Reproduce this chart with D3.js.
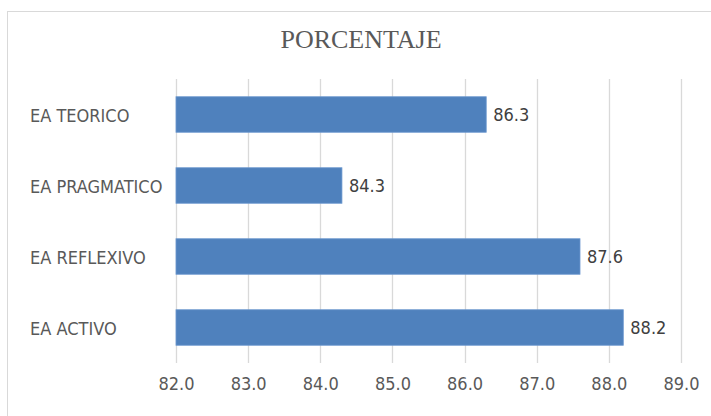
<!DOCTYPE html>
<html><head><meta charset="utf-8">
<script src="https://cdn.jsdelivr.net/npm/d3@7"></script>
<style>body{margin:0;background:#fff}svg{display:block}</style>
</head><body>
<script>
const categories = ["EA TEORICO", "EA PRAGMATICO", "EA REFLEXIVO", "EA ACTIVO"];
const values = [86.3, 84.3, 87.6, 88.2];
const tickValues = [82, 83, 84, 85, 86, 87, 88, 89];
const title = "PORCENTAJE";

const W = 711, H = 416;
const svg = d3.select("body").append("svg").attr("width", W).attr("height", H);
svg.append("rect").attr("x", 0).attr("y", 0).attr("width", W).attr("height", H).attr("fill", "#fff");
svg.append("rect").attr("x", 7.5).attr("y", 11.5).attr("width", 730).attr("height", 430)
  .attr("fill", "none").attr("stroke", "#d9d9d9");

const x = d3.scaleLinear().domain([82, 89]).range([176, 681]);
const y = d3.scaleBand().domain(categories).range([79, 363]).paddingInner(0.5).paddingOuter(0.25);

const narrow = "'DejaVu Sans Condensed',sans-serif";

svg.append("text").attr("x", 361).attr("y", 48).attr("text-anchor", "middle")
  .attr("font-family", "'Liberation Serif','Times New Roman',serif").attr("font-size", 26)
  .attr("fill", "#595959").text(title);

svg.append("g").selectAll("line").data(tickValues).join("line")
  .attr("x1", d => Math.round(x(d)) + 0.5).attr("x2", d => Math.round(x(d)) + 0.5)
  .attr("y1", 79).attr("y2", 363).attr("stroke", "#d9d9d9").attr("stroke-width", 1.3);

const xAxis = svg.append("g").attr("transform", "translate(0,363)")
  .call(d3.axisBottom(x).tickValues(tickValues).tickFormat(d3.format(".1f")).tickSize(0).tickPadding(14));
xAxis.select(".domain").remove();
xAxis.selectAll("text").attr("font-family", narrow).attr("font-size", 18).attr("fill", "#595959");

const yAxis = svg.append("g").attr("transform", "translate(30,0)")
  .call(d3.axisLeft(y).tickSize(0).tickPadding(0));
yAxis.select(".domain").remove();
yAxis.selectAll("text").attr("text-anchor", "start").attr("font-family", narrow)
  .attr("font-size", 18).attr("fill", "#595959").attr("dy", "0.4em");

svg.append("g").selectAll("rect").data(values).join("rect")
  .attr("x", x(82)).attr("y", (d, i) => y(categories[i]))
  .attr("width", d => x(d) - x(82)).attr("height", y.bandwidth())
  .attr("fill", "#4f81bd").attr("stroke", "#6b97cf").attr("stroke-width", 0.8);

svg.append("g").selectAll("text").data(values).join("text")
  .attr("x", d => x(d) + 7).attr("y", (d, i) => y(categories[i]) + y.bandwidth() / 2)
  .attr("dy", "0.37em").attr("font-family", narrow).attr("font-size", 18)
  .attr("fill", "#404040").text(d => d3.format(".1f")(d));
</script>
</body></html>
